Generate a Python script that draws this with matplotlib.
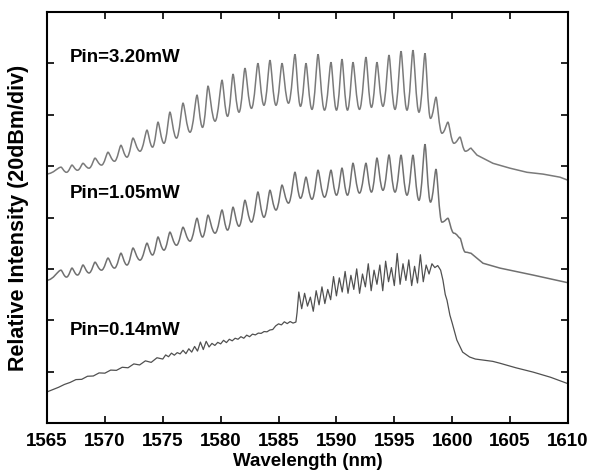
import numpy as np
import matplotlib
matplotlib.use('Agg')
import matplotlib.pyplot as plt
from matplotlib.path import Path
from matplotlib.patches import PathPatch

# ---- data (relative intensity in dB, 20 dB per division) ----
comb_wl = [1566.21, 1567.16, 1568.11, 1569.15, 1570.27, 1571.39, 1572.43, 1573.64, 1574.59, 1575.62,
           1576.75, 1577.96, 1578.91, 1580.12, 1581.07, 1582.10, 1583.22, 1584.26, 1585.30, 1586.42,
           1587.37, 1588.41, 1589.53, 1590.48, 1591.43, 1592.55, 1593.50, 1594.54, 1595.58, 1596.61,
           1597.65, 1598.60, 1599.63, 1600.67, 1601.62]

top_start = [1565.0, 97.0]
top_peaks = [99.6, 100.4, 101.1, 103.1, 105.4, 108.1, 110.9, 114.0, 117.1, 121.0,
             124.5, 127.6, 131.1, 133.4, 135.8, 138.1, 140.0, 141.2, 140.0, 143.5,
             140.0, 143.5, 140.4, 141.6, 140.4, 142.4, 140.4, 143.2, 144.7, 145.1,
             143.9, 126.8, 117.1, 111.3, 107.0]
top_valleys = [97.6, 98.4, 99.2, 100.4, 101.9, 103.5, 105.8, 107.4, 108.9, 110.9,
               113.2, 115.1, 117.5, 119.4, 121.0, 122.5, 123.7, 123.7, 124.5, 123.3,
               122.1, 121.8, 121.8, 121.8, 122.1, 122.9, 123.3, 122.1, 121.8, 121.0,
               118.6, 112.8, 108.9, 105.8]
top_tail_wl = [1602.14, 1603.52, 1604.99, 1606.46, 1607.84, 1609.31, 1610.0]
top_tail_db = [104.3, 101.1, 99.2, 97.6, 96.9, 95.7, 94.5]

mid_start = [1565.0, 55.6]
mid_peaks = [59.5, 60.3, 61.5, 62.6, 64.2, 66.1, 68.1, 70.0, 72.4, 74.3,
             76.2, 79.7, 80.9, 82.9, 84.0, 86.7, 89.9, 90.6, 92.6, 97.6,
             95.7, 98.4, 98.4, 99.2, 101.1, 101.1, 103.1, 104.3, 104.3, 104.3,
             108.5, 98.8, 79.7, 72.0, 66.1]
mid_valleys = [56.8, 57.6, 58.4, 59.5, 60.3, 61.5, 63.4, 65.4, 67.3, 69.2,
               70.8, 72.4, 73.9, 75.1, 76.6, 78.2, 80.1, 82.9, 85.6, 87.5,
               87.1, 87.9, 88.7, 88.7, 89.5, 89.9, 90.6, 89.9, 88.7, 86.7,
               86.0, 78.2, 73.9, 66.5]
mid_tail_wl = [1602.66, 1604.13, 1606.98, 1610.0]
mid_tail_db = [62.2, 60.3, 57.6, 54.6]

low_wl = [1565.0, 1565.5, 1566.0, 1566.5, 1567.0, 1567.5, 1568.0, 1568.5, 1569.0, 1569.5,
          1570.0, 1570.5, 1571.0, 1571.5, 1572.0, 1572.5, 1573.0, 1573.5, 1574.0, 1574.5,
          1575.0, 1575.25, 1575.5, 1575.75, 1576.0, 1576.25, 1576.5, 1576.75, 1577.0, 1577.25,
          1577.5, 1577.75, 1578.0, 1578.25, 1578.5, 1578.75, 1579.0, 1579.25, 1579.5, 1579.75,
          1580.0, 1580.25, 1580.5, 1580.75, 1581.0, 1581.25, 1581.5, 1581.75, 1582.0, 1582.25,
          1582.5, 1582.75, 1583.0, 1583.25, 1583.5, 1583.75, 1584.0, 1584.25, 1584.5, 1584.75,
          1585.0, 1585.25, 1585.5, 1585.75, 1586.0, 1586.25, 1586.5, 1586.6, 1586.75, 1587.0,
          1587.25, 1587.5, 1587.75, 1588.0, 1588.25, 1588.5, 1588.75, 1589.0, 1589.25, 1589.5,
          1589.75, 1590.0, 1590.25, 1590.5, 1590.75, 1591.0, 1591.25, 1591.5, 1591.75, 1592.0,
          1592.25, 1592.5, 1592.75, 1593.0, 1593.25, 1593.5, 1593.75, 1594.0, 1594.25, 1594.5,
          1594.75, 1595.0, 1595.25, 1595.5, 1595.75, 1596.0, 1596.25, 1596.5, 1596.75, 1597.0,
          1597.25, 1597.5, 1597.75, 1598.0, 1598.25, 1598.5, 1598.75, 1599.0, 1599.2, 1599.4,
          1599.55, 1599.8, 1600.0, 1600.4, 1600.9, 1601.5, 1602.0, 1602.7, 1603.5, 1604.1,
          1605.5, 1607.0, 1608.5, 1610.0]
low_db = [12.1, 13.0, 13.9, 15.0, 15.8, 16.9, 17.0, 18.2, 18.3, 19.5,
          19.4, 20.6, 20.5, 21.7, 21.5, 23.0, 22.6, 24.2, 23.6, 25.4,
          24.9, 26.5, 25.8, 27.2, 26.4, 27.4, 26.9, 28.3, 27.0, 28.9,
          27.6, 29.8, 28.0, 31.5, 28.6, 31.8, 29.6, 31.0, 30.2, 31.4,
          30.8, 32.2, 31.3, 32.6, 32.0, 33.0, 32.6, 33.6, 33.0, 34.2,
          33.6, 34.6, 34.3, 35.0, 34.9, 35.6, 35.5, 36.2, 36.4, 37.8,
          38.6, 38.2, 39.4, 38.7, 39.5, 38.9, 39.3, 43.0, 51.0, 44.5,
          50.5, 45.5, 49.0, 43.5, 51.5, 46.0, 53.0, 46.5, 52.0, 48.0,
          57.0, 49.5, 56.5, 51.0, 59.0, 50.5, 57.5, 52.0, 60.0, 50.5,
          58.0, 53.0, 62.0, 51.5, 59.5, 54.0, 61.5, 51.5, 63.0, 55.0,
          60.5, 53.5, 66.0, 54.0, 62.0, 55.5, 63.5, 53.5, 61.0, 54.5,
          65.5, 55.0, 61.5, 58.0, 62.0, 60.5, 61.3, 59.5, 55.6, 50.0,
          47.8, 42.0, 38.9, 32.3, 27.6, 25.7, 24.9, 24.5, 24.0, 23.3,
          21.5, 19.8, 17.8, 15.3]

labels = ["Pin=3.20mW", "Pin=1.05mW", "Pin=0.14mW"]
label_wl = [1567.0, 1567.0, 1567.0]
label_db = [142.4, 89.5, 36.2]

x_ticks = [1565, 1570, 1575, 1580, 1585, 1590, 1595, 1600, 1605, 1610]
y_ticks = [0, 20, 40, 60, 80, 100, 120, 140, 160]


def comb_path(start, peaks, valleys, tail_wl, tail_db, a=0.45, b=0.22):
    """Cubic-Bezier path: broad rounded valleys, narrow rounded peaks."""
    pts = [(start[0], start[1], 'v')]
    for i, p in enumerate(peaks):
        pts.append((comb_wl[i], p, 'p'))
        if i < len(valleys):
            pts.append(((comb_wl[i] + comb_wl[i + 1]) / 2, valleys[i], 'v'))
    verts = [(pts[0][0], pts[0][1])]
    codes = [Path.MOVETO]
    for s, e in zip(pts[:-1], pts[1:]):
        dx = e[0] - s[0]
        if e[2] == 'p':      # valley -> peak
            c1 = (s[0] + a * dx, s[1])
            c2 = (e[0] - b * dx, e[1])
        else:                # peak -> valley
            c1 = (s[0] + b * dx, s[1])
            c2 = (e[0] - a * dx, e[1])
        verts += [c1, c2, (e[0], e[1])]
        codes += [Path.CURVE4] * 3
    for x, y in zip(tail_wl, tail_db):
        verts.append((x, y))
        codes.append(Path.LINETO)
    return Path(verts, codes)


plt.rcParams['font.family'] = ['Liberation Sans', 'DejaVu Sans']
plt.rcParams['font.weight'] = 'bold'

fig = plt.figure(figsize=(5.97, 4.71), dpi=100)
ax = fig.add_axes([0.0787, 0.1019, 0.8727, 0.8726])

ax.add_patch(PathPatch(comb_path(top_start, top_peaks, top_valleys, top_tail_wl, top_tail_db),
                       fill=False, edgecolor='#7a7a7a', lw=1.1))
ax.add_patch(PathPatch(comb_path(mid_start, mid_peaks, mid_valleys, mid_tail_wl, mid_tail_db),
                       fill=False, edgecolor='#707070', lw=1.1))
ax.plot(low_wl, low_db, color='#505050', lw=0.9)

for t, x, y in zip(labels, label_wl, label_db):
    ax.text(x, y, t, fontsize=13.5, fontweight='bold', ha='left', va='center', color='black')

ax.set_xlim(1565, 1610)
ax.set_ylim(0, 160)
ax.set_xticks(x_ticks)
ax.set_xticklabels([str(v) for v in x_ticks], fontsize=13.5, fontweight='bold')
ax.set_yticks(y_ticks)
ax.set_yticklabels([])
ax.tick_params(direction='in', top=True, right=True, length=5, width=1.2, pad=7)
for s in ax.spines.values():
    s.set_linewidth(1.5)
ax.set_xlabel('Wavelength (nm)', fontsize=13.5, fontweight='bold', labelpad=2.5)
ax.set_ylabel('Relative Intensity (20dBm/div)', fontsize=15.5, fontweight='bold', labelpad=6)

fig.savefig('out.png', dpi=100)
